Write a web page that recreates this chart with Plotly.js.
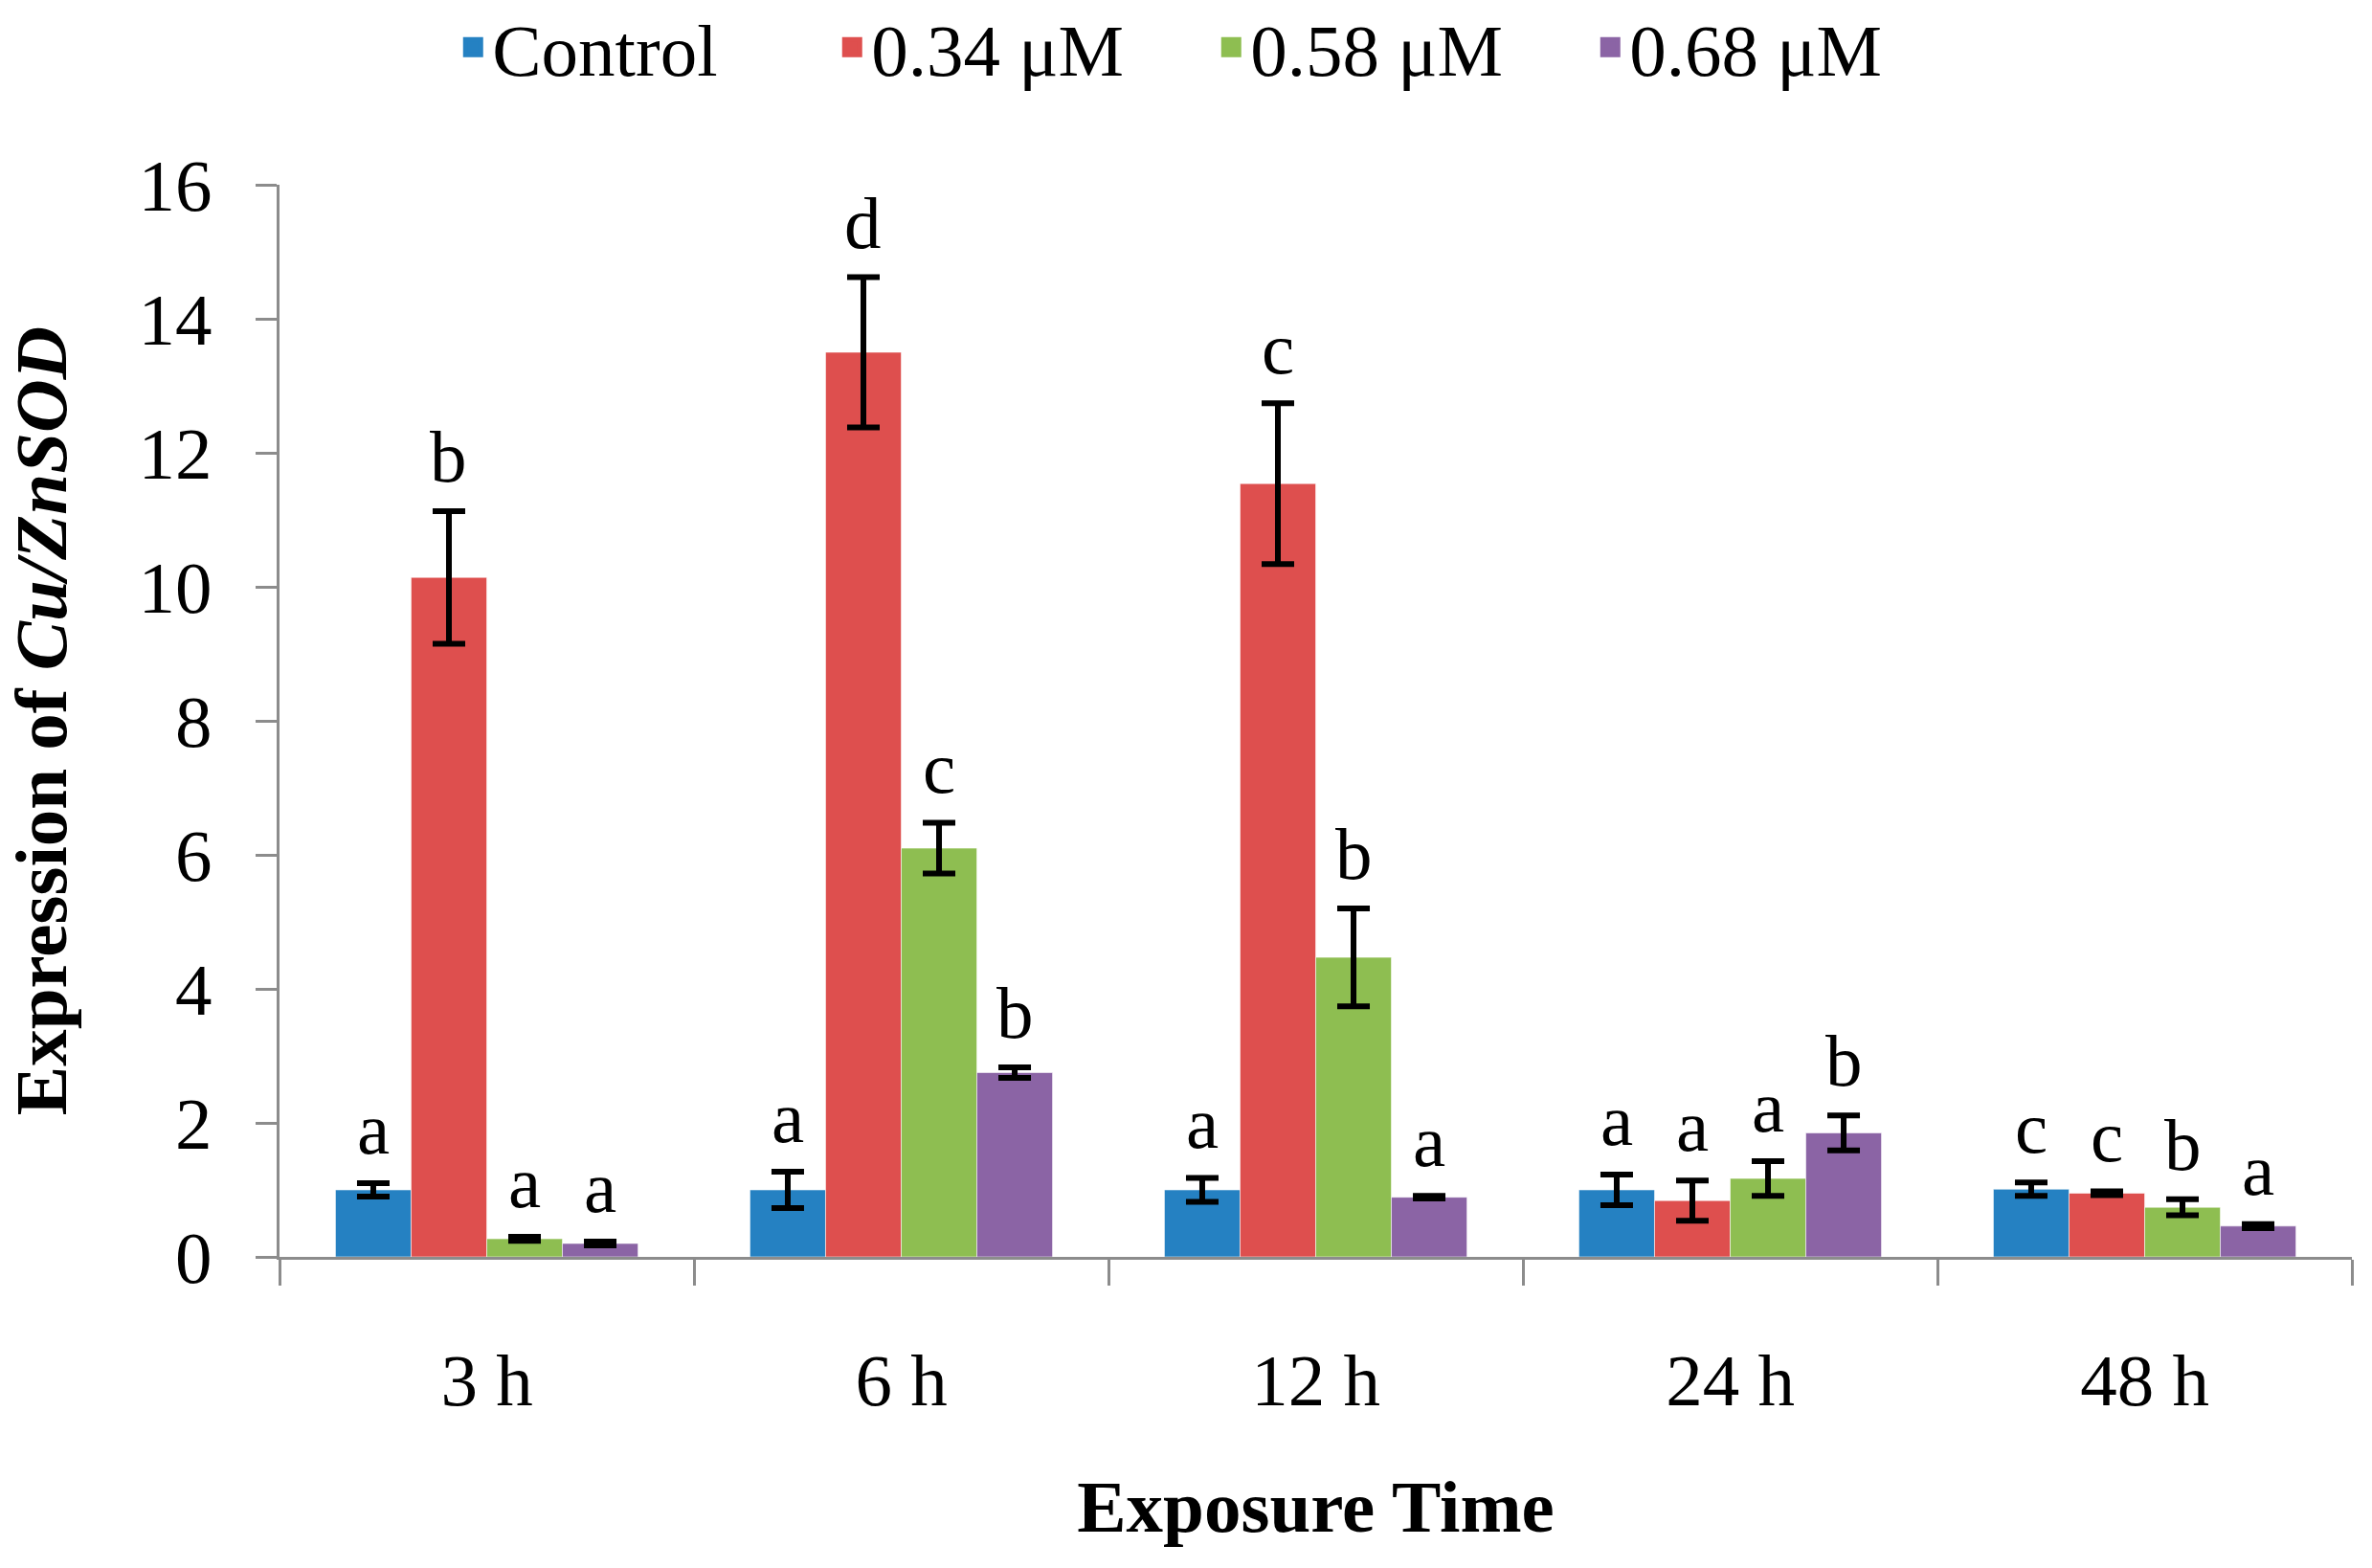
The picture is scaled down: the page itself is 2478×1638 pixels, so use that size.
<!DOCTYPE html>
<html><head><meta charset="utf-8">
<script src="https://cdn.plot.ly/plotly-3.0.1.min.js"></script>
<style>html,body{margin:0;padding:0;background:#fff}</style>
</head><body><div id="chart" style="width:2478px;height:1638px"></div>
<script>
const categories = ['3 h', '6 h', '12 h', '24 h', '48 h'];
const seriesNames = ['Control', '0.34 μM', '0.58 μM', '0.68 μM'];

const control    = [1.00, 1.00, 1.00, 1.00, 1.01];
const conc034    = [10.14, 13.50, 11.54, 0.84, 0.95];
const conc058    = [0.27, 6.10, 4.47, 1.17, 0.74];
const conc068    = [0.20, 2.75, 0.89, 1.85, 0.46];

const controlErr = [0.10, 0.27, 0.18, 0.23, 0.10];
const conc034Err = [0.99, 1.12, 1.20, 0.30, 0.03];
const conc058Err = [0.03, 0.38, 0.73, 0.26, 0.12];
const conc068Err = [0.03, 0.08, 0.02, 0.26, 0.03];

const controlLetters = ['a', 'a', 'a', 'a', 'c'];
const conc034Letters = ['b', 'd', 'c', 'a', 'c'];
const conc058Letters = ['a', 'c', 'b', 'a', 'b'];
const conc068Letters = ['a', 'b', 'a', 'b', 'a'];

const yTickVals = [0, 2, 4, 6, 8, 10, 12, 14, 16];

const values = [control, conc034, conc058, conc068];
const errors = [controlErr, conc034Err, conc058Err, conc068Err];
const letters = [controlLetters, conc034Letters, conc058Letters, conc068Letters];
const colors = ['#2581c2', '#de4f4e', '#8ebe51', '#8b64a5'];

const FONT = 'Liberation Serif, Times New Roman, serif';
const BARGAP = 0.27;

const traces = [];
values.forEach((vals, j) => {
  traces.push({
    type: 'bar', x: categories, y: vals, name: seriesNames[j], showlegend: false,
    marker: {color: colors[j], line: {color: 'rgba(255,255,255,0.55)', width: 1}},
    error_y: {type: 'data', array: errors[j], visible: true, color: '#000000', thickness: 6, width: 17}
  });
});
seriesNames.forEach((n, j) => {
  traces.push({
    type: 'scatter', mode: 'markers', x: [null], y: [null], name: n, hoverinfo: 'skip',
    marker: {symbol: 'square', size: 16, color: colors[j], line: {color: colors[j], width: 5}}
  });
});

const annotations = [];
const groupW = 1 - BARGAP;
values.forEach((vals, j) => {
  vals.forEach((v, i) => {
    annotations.push({
      xref: 'x', yref: 'y',
      x: i - groupW / 2 + (j + 0.5) * groupW / 4,
      y: v + errors[j][i],
      text: letters[j][i], showarrow: false, yanchor: 'bottom', yshift: 12,
      font: {family: FONT, size: 77, color: '#000'}
    });
  });
});

const layout = {
  width: 2478, height: 1638,
  margin: {l: 292, r: 21, t: 193, b: 325, autoexpand: false},
  paper_bgcolor: '#ffffff', plot_bgcolor: '#ffffff',
  barmode: 'group', bargap: BARGAP, bargroupgap: 0,
  font: {family: FONT, size: 77, color: '#000'},
  showlegend: true,
  legend: {
    orientation: 'h', xref: 'paper', yref: 'paper', x: 0.45, xanchor: 'center', y: 1.128, yanchor: 'middle',
    font: {family: FONT, size: 77, color: '#000'}, entrywidth: 351, bgcolor: 'rgba(0,0,0,0)'
  },
  xaxis: {
    type: 'category', showgrid: false, zeroline: false,
    showline: true, linecolor: '#8c8c8c', linewidth: 3,
    ticks: 'outside', tickson: 'boundaries', ticklen: 27, tickwidth: 3, tickcolor: '#8c8c8c',
    ticklabelstandoff: 60,
    tickfont: {family: FONT, size: 77, color: '#000'},
    title: {text: '<b>Exposure Time</b>', font: {family: FONT, size: 77, color: '#000'}, standoff: 62},
    automargin: false
  },
  yaxis: {
    range: [0, 16], tickvals: yTickVals, ticktext: yTickVals.map(String),
    showgrid: false, zeroline: false,
    showline: true, linecolor: '#8c8c8c', linewidth: 3,
    ticks: 'outside', ticklen: 22, tickwidth: 3, tickcolor: '#8c8c8c',
    ticklabelstandoff: 30,
    tickfont: {family: FONT, size: 77, color: '#000'},
    title: {text: '<b>Expression of <i>Cu/ZnSOD</i></b>', font: {family: FONT, size: 77, color: '#000'}, standoff: 50},
    automargin: false
  },
  annotations: annotations
};

Plotly.newPlot('chart', traces, layout, {displayModeBar: false, staticPlot: true});
</script>
</body></html>
